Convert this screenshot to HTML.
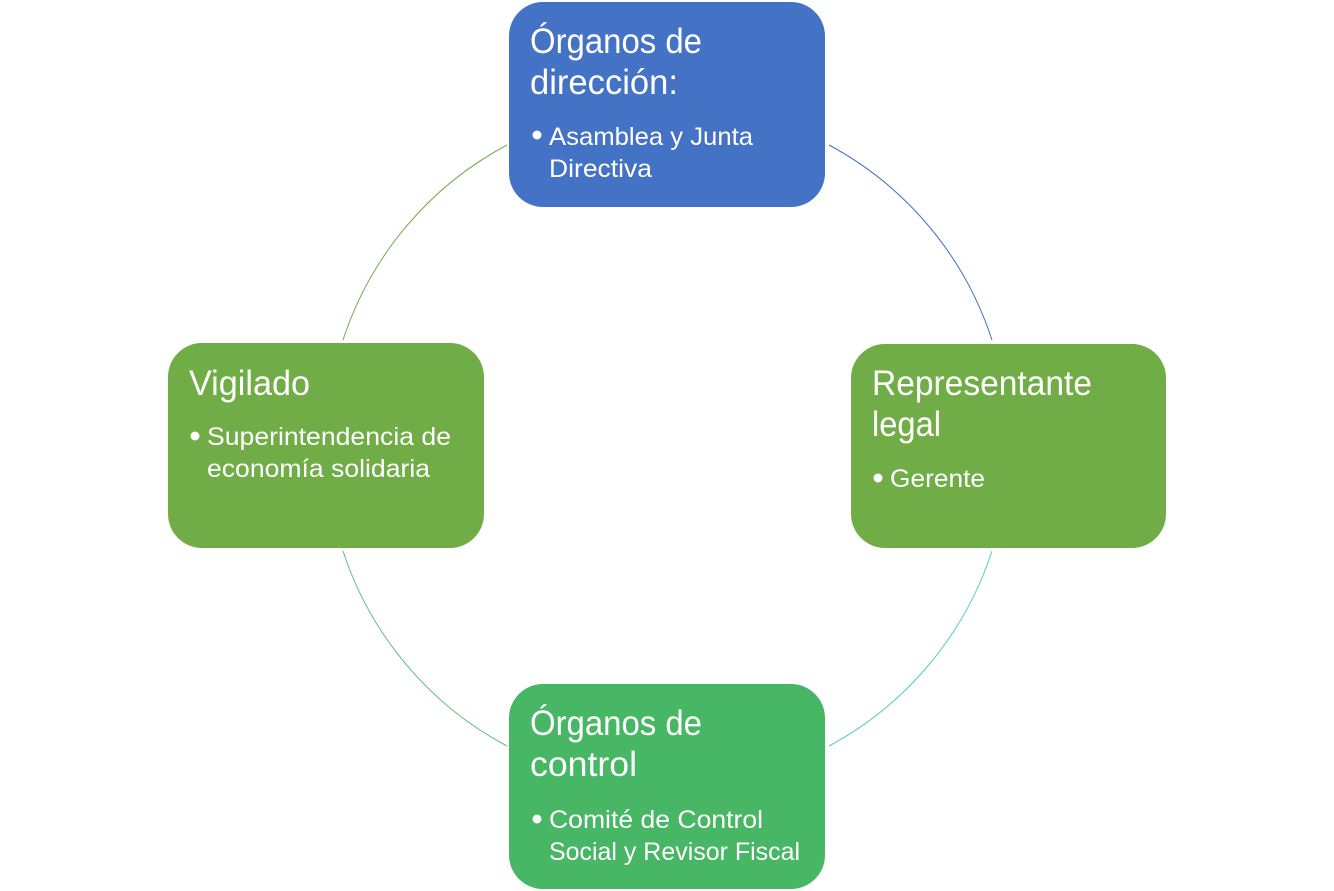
<!DOCTYPE html>
<html><head><meta charset="utf-8"><style>
html,body{margin:0;padding:0;background:#fff;width:1334px;height:891px;overflow:hidden}
svg{display:block}
text{font-family:"Liberation Sans",sans-serif;fill:#fff}
.t{font-size:35px}
.s{font-size:25px}
path{fill:none;stroke-width:1}
</style></head><body>
<svg width="1334" height="891" viewBox="0 0 1334 891" xmlns="http://www.w3.org/2000/svg">
<path d="M829 145 A341 341 0 0 1 992 340" stroke="#4472C4"/>
<path d="M992 551 A341 341 0 0 1 829 746" stroke="#5BC8C4"/>
<path d="M507 746 A341 341 0 0 1 343 551" stroke="#5CC07E"/>
<path d="M343 340 A341 341 0 0 1 507 145" stroke="#70AD47"/>

<rect x="509" y="2" width="316" height="205" rx="34" fill="#4472C4"/>
<rect x="851" y="344" width="315" height="204" rx="34" fill="#70AD47"/>
<rect x="168" y="343" width="316" height="205" rx="34" fill="#70AD47"/>
<rect x="509" y="684" width="316" height="205" rx="34" fill="#47B665"/>

<text class="t" x="530" y="53" textLength="172" lengthAdjust="spacingAndGlyphs">Órganos de</text>
<text class="t" x="530" y="94" textLength="148" lengthAdjust="spacingAndGlyphs">dirección:</text>
<circle cx="537" cy="135" r="4.5" fill="#fff"/>
<text class="s" x="549" y="145" textLength="204" lengthAdjust="spacingAndGlyphs">Asamblea y Junta</text>
<text class="s" x="549" y="177" textLength="103" lengthAdjust="spacingAndGlyphs">Directiva</text>

<text class="t" x="872" y="395" textLength="220" lengthAdjust="spacingAndGlyphs">Representante</text>
<text class="t" x="872" y="436" textLength="69" lengthAdjust="spacingAndGlyphs">legal</text>
<circle cx="878" cy="478" r="4.5" fill="#fff"/>
<text class="s" x="890" y="487" textLength="95" lengthAdjust="spacingAndGlyphs">Gerente</text>

<text class="t" x="189" y="395" textLength="121" lengthAdjust="spacingAndGlyphs">Vigilado</text>
<circle cx="195" cy="436" r="4.5" fill="#fff"/>
<text class="s" x="207" y="445" textLength="244" lengthAdjust="spacingAndGlyphs">Superintendencia de</text>
<text class="s" x="207" y="477" textLength="223" lengthAdjust="spacingAndGlyphs">economía solidaria</text>

<text class="t" x="530" y="735" textLength="172" lengthAdjust="spacingAndGlyphs">Órganos de</text>
<text class="t" x="530" y="776" textLength="107" lengthAdjust="spacingAndGlyphs">control</text>
<circle cx="537" cy="819" r="4.5" fill="#fff"/>
<text class="s" x="549" y="828" textLength="214" lengthAdjust="spacingAndGlyphs">Comité de Control</text>
<text class="s" x="549" y="860" textLength="251" lengthAdjust="spacingAndGlyphs">Social y Revisor Fiscal</text>
</svg>
</body></html>
